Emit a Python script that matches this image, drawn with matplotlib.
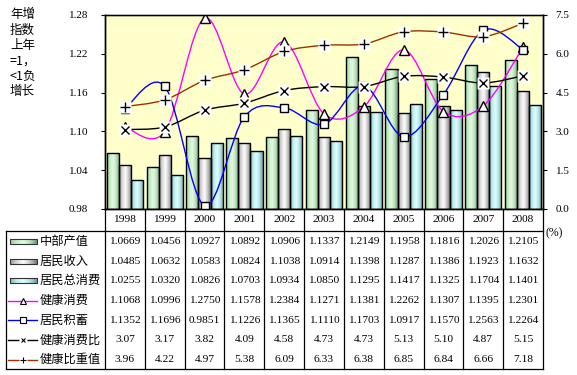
import numpy as np
import matplotlib
matplotlib.use("Agg")
import matplotlib.pyplot as plt
from matplotlib.path import Path
from matplotlib.patches import PathPatch, Rectangle
from matplotlib.lines import Line2D
from matplotlib.colors import LinearSegmentedColormap
import matplotlib.transforms as mtransforms

plt.rcParams['font.family'] = ['Liberation Serif', 'Noto Sans CJK SC', 'DejaVu Sans']

years = ['1998', '1999', '2000', '2001', '2002', '2003', '2004', '2005', '2006', '2007', '2008']
gdp = [1.0669, 1.0456, 1.0927, 1.0892, 1.0906, 1.1337, 1.2149, 1.1958, 1.1816, 1.2026, 1.2105]
income = [1.0485, 1.0632, 1.0583, 1.0824, 1.1038, 1.0914, 1.1398, 1.1287, 1.1386, 1.1923, 1.1632]
consumption = [1.0255, 1.0320, 1.0826, 1.0703, 1.0934, 1.0850, 1.1295, 1.1417, 1.1325, 1.1704, 1.1401]
health = [1.1068, 1.0996, 1.2750, 1.1578, 1.2384, 1.1271, 1.1381, 1.2262, 1.1307, 1.1395, 1.2301]
savings = [1.1352, 1.1696, 0.9851, 1.1226, 1.1365, 1.1110, 1.1703, 1.0917, 1.1570, 1.2563, 1.2264]
ratio = [3.07, 3.17, 3.82, 4.09, 4.58, 4.73, 4.73, 5.13, 5.10, 4.87, 5.15]
weight = [3.96, 4.22, 4.97, 5.38, 6.09, 6.33, 6.38, 6.85, 6.84, 6.66, 7.18]

names = ['中部产值', '居民收入', '居民总消费', '健康消费', '居民积蓄', '健康消费比', '健康比重值']
left_ticks = [0.98, 1.04, 1.10, 1.16, 1.22, 1.28]
right_ticks = [0.0, 1.5, 3.0, 4.5, 6.0, 7.5]

W, H = 577, 375
fig = plt.figure(figsize=(W / 100, H / 100), dpi=100)
fig.patch.set_facecolor('white')

L, R, T, B = 105, 543, 15, 209
ax = fig.add_axes([L / W, 1 - B / H, (R - L) / W, (B - T) / H])
ax.set_facecolor('#FFFFCC')
ax2 = ax.twinx()
ax2.patch.set_visible(False)

n = len(years)
x = np.arange(n)
ax.set_xlim(-0.5, n - 0.5)
ax.set_ylim(0.98, 1.28)
ax2.set_ylim(0, 7.5)

# gradient bars
grad_stops = {
    'green': ['#9ccc9c', '#c8eec8', '#e4f9e4', '#b8e0b8', '#6f9a6f'],
    'gray': ['#9a9a9a', '#d8d8d8', '#ffffff', '#c8c8c8', '#787878'],
    'cyan': ['#7fb8b8', '#bfeeee', '#e0ffff', '#b0e0e4', '#6a9ea4'],
}
cmaps = {k: LinearSegmentedColormap.from_list(k, v) for k, v in grad_stops.items()}
grad = np.linspace(0, 1, 64).reshape(1, -1)

bw = 0.305
series_bars = [(gdp, 'green', -bw), (income, 'gray', 0.0), (consumption, 'cyan', bw)]
for vals, cm, off in series_bars:
    bars = ax.bar(x + off, np.array(vals) - 0.98, bottom=0.98, width=bw,
                  facecolor='none', edgecolor='black', linewidth=1.0, zorder=3)
    for b in bars:
        x0, y0 = b.get_x(), b.get_y()
        im = ax.imshow(grad, cmap=cmaps[cm], aspect='auto', interpolation='bicubic',
                       extent=[x0, x0 + b.get_width(), y0, y0 + b.get_height()], zorder=2)
        im.set_clip_path(b)
ax.set_xlim(-0.5, n - 0.5)
ax.set_ylim(0.98, 1.28)


def smooth_path(xs, ys):
    xs = np.asarray(xs, float)
    ys = np.asarray(ys, float)
    pts = np.column_stack([xs, ys])
    P = np.vstack([pts[0], pts, pts[-1]])
    verts = [pts[0]]
    codes = [Path.MOVETO]
    for i in range(1, len(P) - 2):
        p0, p1, p2, p3 = P[i - 1], P[i], P[i + 1], P[i + 2]
        c1 = p1 + (p2 - p0) / 6.0
        c2 = p2 - (p3 - p1) / 6.0
        verts += [c1, c2, p2]
        codes += [Path.CURVE4] * 3
    return Path(verts, codes)


def draw_series(a, vals, color, marker, ms, mew=1.0, mfc='white', bg=False):
    a.add_patch(PathPatch(smooth_path(x, vals), facecolor='none', edgecolor=color,
                          linewidth=1.0, zorder=4))
    if bg:
        a.plot(x, vals, linestyle='none', marker='s', ms=9, mfc='white', mec='none', zorder=5)
    a.plot(x, vals, linestyle='none', marker=marker, ms=ms, mfc=mfc, mec='black',
           mew=mew, zorder=6)


draw_series(ax, health, '#FF00FF', '^', 7)
draw_series(ax, savings, '#0000FF', 's', 6)
draw_series(ax2, ratio, 'black', 'x', 5.5, bg=True)
draw_series(ax2, weight, '#993300', '+', 7, bg=True)

# axes styling
ax.set_xticks([])
ax.set_yticks(left_ticks)
ax.set_yticklabels([f'{t:.2f}' for t in left_ticks], fontsize=8)
ax2.set_yticks(right_ticks)
ax2.set_yticklabels([f'{t:.1f}' for t in right_ticks], fontsize=8)
ax.tick_params(axis='y', direction='out', length=3, width=0.8, pad=9)
ax2.tick_params(axis='y', direction='out', length=3, width=0.8, pad=6)
for a in (ax, ax2):
    for s in a.spines.values():
        s.set_linewidth(1.0)
        s.set_color('black')
ax.spines['top'].set_color('#606060')

# data table
colx = mtransforms.blended_transform_factory(ax.transData, fig.transFigure)
figt = fig.transFigure


def fy(p):
    return 1 - p / H


def fx(p):
    return p / W


lw = 0.9
tbl_top, tbl_bot, tbl_left = 231, 369, 6
for k in range(n + 1):
    fig.add_artist(Line2D([k - 0.5, k - 0.5], [fy(B), fy(tbl_bot)], transform=colx,
                          color='black', lw=lw))
fig.add_artist(Line2D([fx(tbl_left), fx(R)], [fy(tbl_top), fy(tbl_top)], transform=figt,
                      color='black', lw=lw))
fig.add_artist(Line2D([fx(tbl_left), fx(R)], [fy(tbl_bot), fy(tbl_bot)], transform=figt,
                      color='black', lw=lw))
fig.add_artist(Line2D([fx(tbl_left), fx(tbl_left)], [fy(tbl_top), fy(tbl_bot)], transform=figt,
                      color='black', lw=lw))

for i, yr in enumerate(years):
    fig.text(i, fy(220), yr, transform=colx, ha='center', va='center', fontsize=8.2)

row_h = (tbl_bot - tbl_top) / 7
rows = [gdp, income, consumption, health, savings, ratio, weight]
fmts = ['{:.4f}'] * 5 + ['{:.2f}'] * 2
for r, (vals, fm) in enumerate(zip(rows, fmts)):
    yc = fy(tbl_top + row_h * (r + 0.5) + 0.5)
    for i, v in enumerate(vals):
        fig.text(i, yc, fm.format(v), transform=colx, ha='center', va='center', fontsize=8.2)
    fig.text(fx(40), yc, names[r], transform=figt, ha='left', va='center', fontsize=8.8,
             family=['Noto Sans CJK SC', 'DejaVu Sans'])

# legend keys
key_cmaps = ['green', 'gray', 'cyan']
for r in range(3):
    yc = tbl_top + row_h * (r + 0.5) + 0.5
    rect = Rectangle((fx(10), fy(yc + 2.5)), fx(27), 5 / H, transform=figt,
                     facecolor='none', edgecolor='#333333', lw=0.8)
    fig.add_artist(rect)
    imk = ax.imshow(grad, cmap=cmaps[key_cmaps[r]], aspect='auto', interpolation='bicubic',
                    extent=[fx(10), fx(37), fy(yc + 2.5), fy(yc - 2.5)], transform=figt,
                    clip_on=False, zorder=10)
    imk.set_clip_path(rect)
    imk.set_clip_on(True)
ax.set_xlim(-0.5, n - 0.5)
ax.set_ylim(0.98, 1.28)

line_keys = [('#FF00FF', '^', 5), ('#0000FF', 's', 4.5), ('black', 'x', 3.5), ('#993300', '+', 4.5)]
for j, (c, m, ms) in enumerate(line_keys):
    r = 3 + j
    yc = fy(tbl_top + row_h * (r + 0.5) + 0.5)
    fig.add_artist(Line2D([fx(8), fx(37)], [yc, yc], transform=figt, color=c, lw=1.0))
    if m in ('x', '+'):
        fig.add_artist(Line2D([fx(22.5)], [yc], transform=figt, linestyle='none', marker='s',
                              ms=6, mfc='white', mec='none'))
    fig.add_artist(Line2D([fx(22.5)], [yc], transform=figt, linestyle='none', marker=m, ms=ms,
                          mfc='white', mec='black', mew=0.8))

# left axis title and units
fig.text(fx(10), fy(8), '年增\n指数\n上年\n=1，\n<1负\n增长', transform=figt, ha='left', va='top',
         fontsize=9, linespacing=1.25, family=['Noto Sans CJK SC', 'DejaVu Sans'])
fig.text(fx(546), fy(233), '(%)', transform=figt, ha='left', va='center', fontsize=8.5)

fig.savefig('out.png', dpi=100, facecolor='white')
